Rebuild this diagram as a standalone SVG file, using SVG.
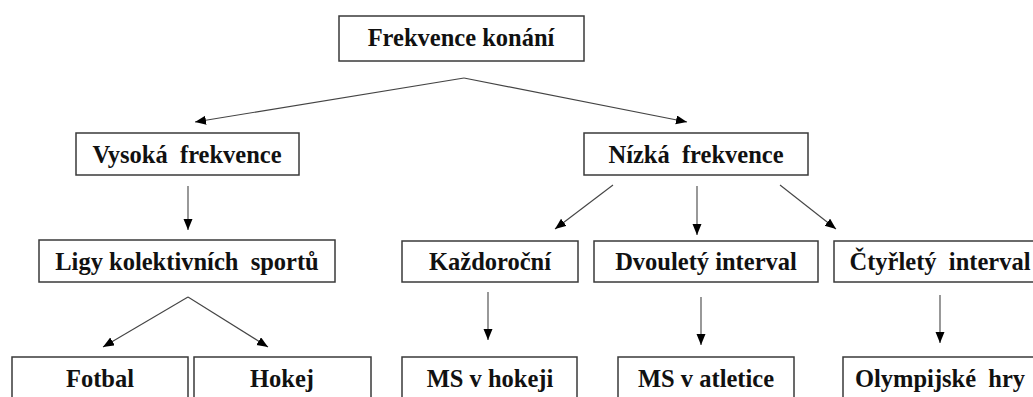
<svg xmlns="http://www.w3.org/2000/svg" width="1033" height="397" viewBox="0 0 1033 397">
<style>
.box{fill:#fff;stroke:#3a3a3a;stroke-width:1.5}
.lbl{font-family:'Liberation Serif','Times New Roman',serif;font-weight:bold;font-size:24.5px;fill:#111;text-anchor:middle}
.con{stroke:#444;stroke-width:1.1;fill:none;marker-end:url(#arr)}
</style>
<defs>
<marker id="arr" markerUnits="userSpaceOnUse" markerWidth="12" markerHeight="10" refX="11" refY="4.5" orient="auto">
<path d="M0,0 L11,4.5 L0,9 z" fill="#000"/>
</marker>
</defs>
<rect width="1033" height="397" fill="#fff"/>
<g id="connectors">
<line class="con" x1="464" y1="78" x2="195" y2="122"/>
<line class="con" x1="464" y1="78" x2="687" y2="122"/>
<line class="con" x1="188" y1="186" x2="188" y2="230"/>
<line class="con" x1="613" y1="185" x2="555" y2="229"/>
<line class="con" x1="697" y1="186" x2="697" y2="235"/>
<line class="con" x1="780" y1="185" x2="836" y2="229"/>
<line class="con" x1="188" y1="297" x2="103" y2="347"/>
<line class="con" x1="188" y1="297" x2="268" y2="347"/>
<line class="con" x1="488" y1="292" x2="488" y2="340"/>
<line class="con" x1="701" y1="297" x2="701" y2="345"/>
<line class="con" x1="940" y1="295" x2="940" y2="343"/>
</g>
<g id="n-root"><rect class="box" x="339" y="16" width="245" height="45"/><text class="lbl" x="461" y="46">Frekvence konání</text></g>
<g id="n-vysoka"><rect class="box" x="76" y="133" width="223" height="42"/><text class="lbl" x="187" y="163" xml:space="preserve">Vysoká  frekvence</text></g>
<g id="n-nizka"><rect class="box" x="584" y="133" width="224" height="42"/><text class="lbl" x="696" y="163" xml:space="preserve">Nízká  frekvence</text></g>
<g id="n-ligy"><rect class="box" x="39" y="240" width="296" height="42"/><text class="lbl" x="187" y="270" xml:space="preserve">Ligy kolektivních  sportů</text></g>
<g id="n-kazdorocni"><rect class="box" x="402" y="241" width="176" height="41"/><text class="lbl" x="490" y="270">Každoroční</text></g>
<g id="n-dvoulety"><rect class="box" x="594" y="241" width="224" height="41"/><text class="lbl" x="706" y="270">Dvouletý interval</text></g>
<g id="n-ctyrlety"><rect class="box" x="834" y="241" width="212" height="41"/><text class="lbl" x="940" y="270" xml:space="preserve">Čtyřletý  interval</text></g>
<g id="n-fotbal"><rect class="box" x="12" y="357" width="176" height="60"/><text class="lbl" x="100" y="387">Fotbal</text></g>
<g id="n-hokej"><rect class="box" x="194" y="357" width="177" height="60"/><text class="lbl" x="282" y="387">Hokej</text></g>
<g id="n-mshokej"><rect class="box" x="402" y="357" width="175" height="60"/><text class="lbl" x="490" y="387">MS v hokeji</text></g>
<g id="n-msatletice"><rect class="box" x="618" y="357" width="176" height="60"/><text class="lbl" x="706" y="387">MS v atletice</text></g>
<g id="n-olympijske"><rect class="box" x="843" y="357" width="194" height="60"/><text class="lbl" x="940" y="387" xml:space="preserve">Olympijské  hry</text></g>
</svg>
